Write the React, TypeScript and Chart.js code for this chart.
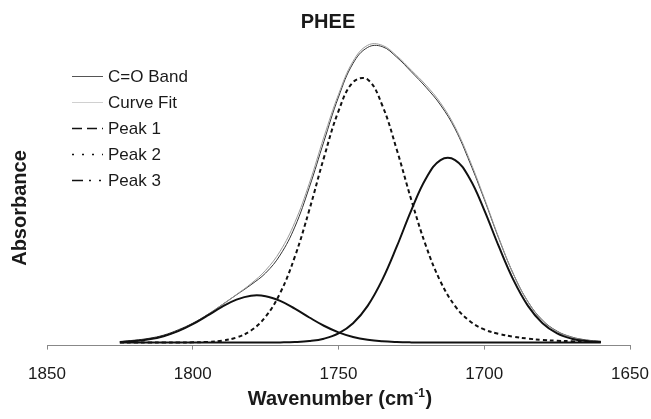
import React, { useEffect, useRef } from "react";
import { Chart, registerables } from "chart.js";

Chart.register(...registerables);

// ---- data ----
const wavenumbers = [
  1825, 1820, 1815, 1810, 1805, 1800, 1795, 1790, 1785, 1780, 1775, 1770,
  1765, 1760, 1755, 1750, 1745, 1740, 1735, 1730, 1725, 1720, 1715, 1710,
  1705, 1700, 1695, 1690, 1685, 1680, 1675, 1670, 1665, 1660,
];

const coBand = [
  0.004, 0.009, 0.016, 0.028, 0.048, 0.073, 0.105, 0.142, 0.18, 0.218, 0.262,
  0.33, 0.435, 0.585, 0.758, 0.925, 1.052, 1.112, 1.115, 1.075, 1.02, 0.962,
  0.895, 0.805, 0.68, 0.54, 0.392, 0.258, 0.154, 0.084, 0.043, 0.021, 0.01,
  0.005,
];

const curveFit = [
  0.0024, 0.0057, 0.0123, 0.0242, 0.0431, 0.07, 0.1037, 0.1416, 0.1809,
  0.2222, 0.2724, 0.3447, 0.4524, 0.6002, 0.7747, 0.935, 1.06, 1.12, 1.12,
  1.08, 1.026, 0.97, 0.903, 0.812, 0.688, 0.545, 0.3947, 0.2581, 0.1533,
  0.0828, 0.0414, 0.0196, 0.0086, 0.0039,
];

const peak1 = [
  0.0024, 0.0057, 0.0123, 0.0241, 0.0429, 0.0692, 0.1012, 0.1344, 0.1617,
  0.1766, 0.1749, 0.1571, 0.1279, 0.0945, 0.0634, 0.0385, 0.0212, 0.0106,
  0.0048, 0.002, 0.0007, 0.0002, 0.0001, 0, 0, 0, 0, 0, 0, 0, 0, 0, 0, 0,
];

const peak2 = [
  0, 0, 0, 0.0001, 0.0002, 0.0008, 0.0025, 0.0072, 0.0192, 0.0456, 0.0974,
  0.187, 0.3226, 0.5001, 0.6967, 0.8721, 0.9809, 0.9908, 0.8941, 0.7264,
  0.5369, 0.3644, 0.2299, 0.1376, 0.0811, 0.0494, 0.0327, 0.022, 0.015, 0.01,
  0.007, 0.005, 0.003, 0.002,
];

const peak3 = [
  0, 0, 0, 0, 0, 0, 0, 0, 0, 0, 0.0001, 0.0006, 0.0019, 0.0056, 0.0146,
  0.0344, 0.0728, 0.1383, 0.2361, 0.362, 0.499, 0.618, 0.6877, 0.6877, 0.618,
  0.499, 0.362, 0.2361, 0.1383, 0.0728, 0.0344, 0.0146, 0.0056, 0.0019,
];

const xTicks = [1850, 1800, 1750, 1700, 1650];
const legendLabels = ["C=O Band", "Curve Fit", "Peak 1", "Peak 2", "Peak 3"];
const chartTitle = "PHEE";
const xTitleMain = "Wavenumber (cm";
const xTitleSup = "-1";
const xTitleEnd = ")";
const yTitle = "Absorbance";

const FONT = "'Liberation Sans', Arial, Helvetica, sans-serif";
const TEXT = "#1a1a1a";

const toPts = (ys: number[]) => wavenumbers.map((x, i) => ({ x, y: ys[i] }));

// legend sample styles (order matches legendLabels)
const legendDash: number[][] = [[], [], [10, 5], [2, 8], [11, 6, 2, 8, 2, 100]];
const legendColor = ["#555", "#d0d0d0", "#111", "#111", "#111"];
const legendWidth = [1, 1, 1.6, 1.6, 1.6];

const overlayPlugin = {
  id: "overlay",
  afterDraw(chart: any) {
    const ctx: CanvasRenderingContext2D = chart.ctx;
    ctx.save();
    ctx.fillStyle = TEXT;
    ctx.textBaseline = "alphabetic";

    // chart title
    ctx.font = `bold 20px ${FONT}`;
    ctx.textAlign = "center";
    ctx.fillText(chartTitle, 328, 28);

    // y-axis title
    ctx.save();
    ctx.translate(26, 208);
    ctx.rotate(-Math.PI / 2);
    ctx.font = `bold 20px ${FONT}`;
    ctx.textAlign = "center";
    ctx.fillText(yTitle, 0, 0);
    ctx.restore();

    // x-axis title with superscript
    ctx.textAlign = "left";
    ctx.font = `bold 20px ${FONT}`;
    const wMain = ctx.measureText(xTitleMain).width;
    const wEnd = ctx.measureText(xTitleEnd).width;
    ctx.font = `bold 12px ${FONT}`;
    const wSup = ctx.measureText(xTitleSup).width;
    const total = wMain + wSup + wEnd + 1;
    const x0 = 340 - total / 2;
    const base = 405;
    ctx.font = `bold 20px ${FONT}`;
    ctx.fillText(xTitleMain, x0, base);
    ctx.font = `bold 12px ${FONT}`;
    ctx.fillText(xTitleSup, x0 + wMain + 0.5, base - 8);
    ctx.font = `bold 20px ${FONT}`;
    ctx.fillText(xTitleEnd, x0 + wMain + wSup + 1, base);

    // legend
    const rowY = [76, 102, 128, 154, 180];
    ctx.font = `17px ${FONT}`;
    for (let i = 0; i < legendLabels.length; i++) {
      const y = rowY[i];
      ctx.save();
      ctx.strokeStyle = legendColor[i];
      ctx.lineWidth = legendWidth[i];
      ctx.setLineDash(legendDash[i]);
      ctx.beginPath();
      ctx.moveTo(72, y + 0.5);
      ctx.lineTo(103, y + 0.5);
      ctx.stroke();
      ctx.restore();
      ctx.fillStyle = TEXT;
      ctx.fillText(legendLabels[i], 108, y + 6);
    }
    ctx.restore();
  },
};

export default function App() {
  const ref = useRef<HTMLCanvasElement>(null);

  useEffect(() => {
    if (!ref.current) return;
    const common = {
      pointRadius: 0,
      pointHoverRadius: 0,
      fill: false,
      tension: 0.4,
    };
    const chart = new Chart(ref.current, {
      type: "line",
      data: {
        datasets: [
          { ...common, label: legendLabels[3], data: toPts(peak2), borderColor: "#111", borderWidth: 2, borderDash: [4, 3] },
          { ...common, label: legendLabels[2], data: toPts(peak1), borderColor: "#111", borderWidth: 2 },
          { ...common, label: legendLabels[4], data: toPts(peak3), borderColor: "#111", borderWidth: 2 },
          { ...common, label: legendLabels[1], data: toPts(curveFit), borderColor: "#9a9a9a", borderWidth: 1 },
          { ...common, label: legendLabels[0], data: toPts(coBand), borderColor: "#333", borderWidth: 1 },
        ],
      },
      options: {
        animation: false,
        responsive: false,
        maintainAspectRatio: false,
        layout: { padding: { left: 47, right: 21, top: 36, bottom: 19 } },
        plugins: {
          legend: { display: false },
          tooltip: { enabled: false },
          title: { display: false },
        },
        scales: {
          x: {
            type: "linear",
            reverse: true,
            min: 1650,
            max: 1850,
            afterBuildTicks: (s: any) => {
              s.ticks = xTicks.map((v) => ({ value: v }));
            },
            afterFit: (s: any) => {
              s.paddingLeft = 0;
              s.paddingRight = 0;
            },
            ticks: {
              font: { family: FONT, size: 17 },
              color: TEXT,
              padding: 15,
              maxRotation: 0,
              autoSkip: false,
              callback: (v: any) => String(v),
            },
            grid: {
              display: true,
              drawOnChartArea: false,
              drawTicks: true,
              tickLength: 4,
              color: "#888",
              lineWidth: 1,
            },
            border: { display: true, color: "#888", width: 1 },
          },
          y: {
            display: false,
            min: -0.0114,
            max: 1.155,
          },
        },
      },
      plugins: [overlayPlugin],
    });
    return () => chart.destroy();
  }, []);

  return (
    <div style={{ position: "absolute", left: 0, top: 0, width: 651, height: 419, background: "#fff" }}>
      <canvas ref={ref} width={651} height={419} style={{ display: "block", width: 651, height: 419 }} />
    </div>
  );
}
